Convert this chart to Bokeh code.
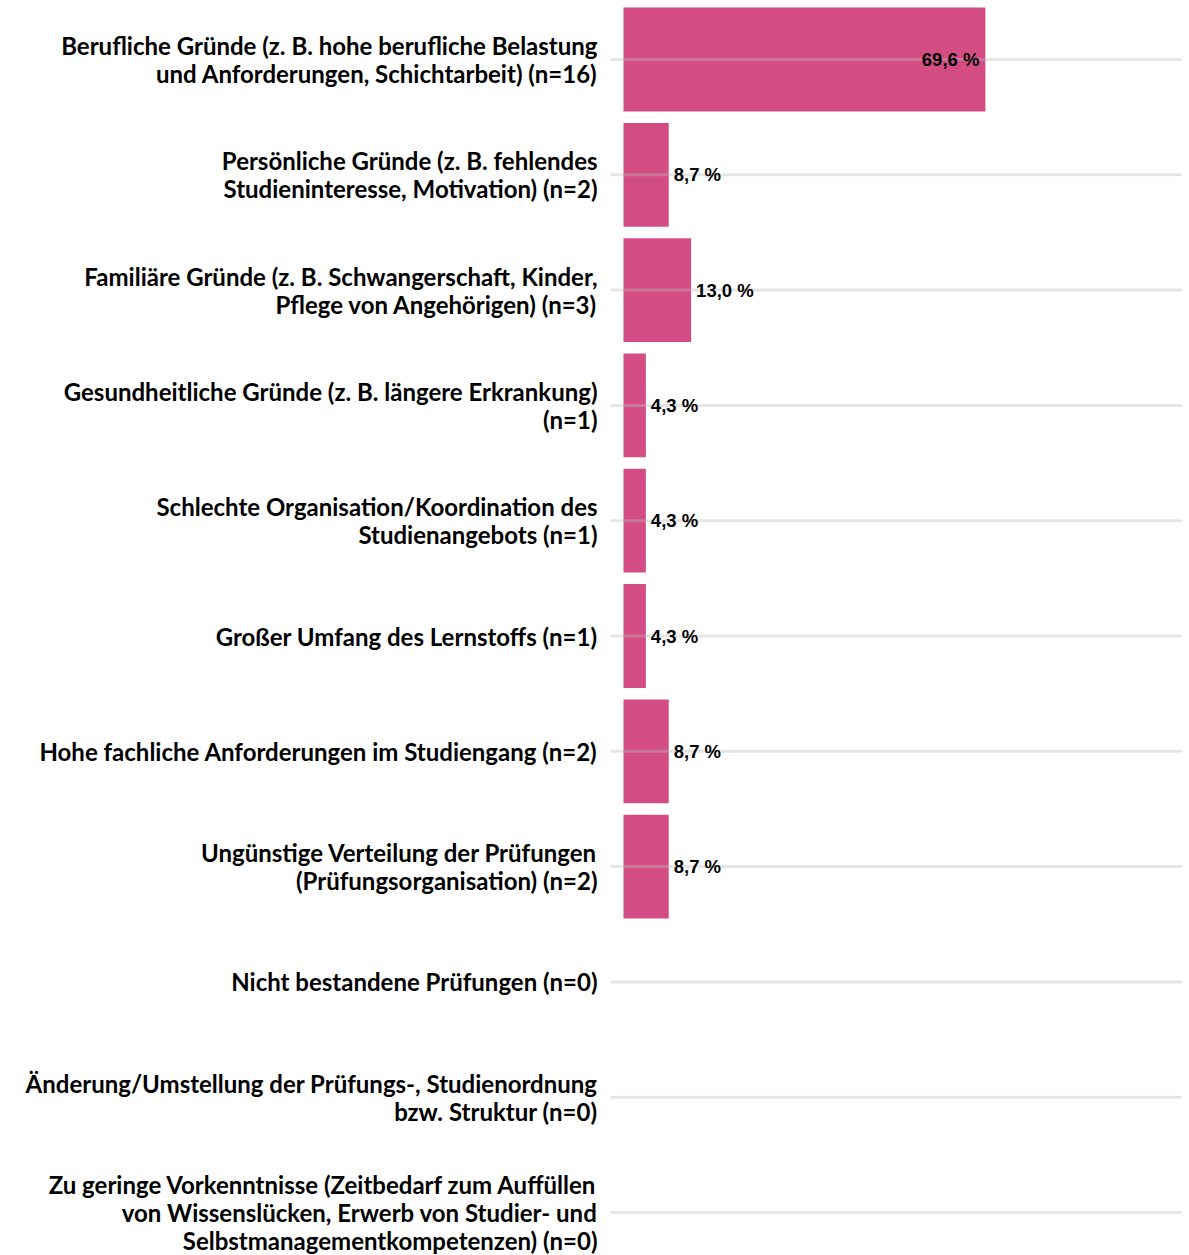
from bokeh.plotting import figure
from bokeh.models import ColumnDataSource, Range1d
from bokeh.core.properties import value
from bokeh.embed import file_html
from bokeh.resources import INLINE

categories = [
    "Berufliche Gründe (z. B. hohe berufliche Belastung\nund Anforderungen, Schichtarbeit) (n=16)",
    "Persönliche Gründe (z. B. fehlendes\nStudieninteresse, Motivation) (n=2)",
    "Familiäre Gründe (z. B. Schwangerschaft, Kinder,\nPflege von Angehörigen) (n=3)",
    "Gesundheitliche Gründe (z. B. längere Erkrankung)\n(n=1)",
    "Schlechte Organisation/Koordination des\nStudienangebots (n=1)",
    "Großer Umfang des Lernstoffs (n=1)",
    "Hohe fachliche Anforderungen im Studiengang (n=2)",
    "Ungünstige Verteilung der Prüfungen\n(Prüfungsorganisation) (n=2)",
    "Nicht bestandene Prüfungen (n=0)",
    "Änderung/Umstellung der Prüfungs-, Studienordnung\nbzw. Struktur (n=0)",
    "Zu geringe Vorkenntnisse (Zeitbedarf zum Auffüllen\nvon Wissenslücken, Erwerb von Studier- und\nSelbstmanagementkompetenzen) (n=0)",
]
percent = [69.6, 8.7, 13.0, 4.3, 4.3, 4.3, 8.7, 8.7, 0.0, 0.0, 0.0]
value_labels = ["69,6 %", "8,7 %", "13,0 %", "4,3 %", "4,3 %", "4,3 %",
                "8,7 %", "8,7 %", "", "", ""]

n = len(categories)
ypos = [n - 1 - i for i in range(n)]

W, H = 1182, 1255
px_per_unit_x = 5.2
x0_px = 623
x_start = -x0_px / px_per_unit_x
x_end = (W - x0_px) / px_per_unit_x
row_px = 115.3
y_end = (n - 1) + 59 / row_px
y_start = y_end - H / row_px

p = figure(width=W, height=H, output_backend="svg", toolbar_location=None,
           x_range=Range1d(x_start, x_end), y_range=Range1d(y_start, y_end),
           min_border=0, min_border_left=0, min_border_right=0,
           min_border_top=0, min_border_bottom=0)
p.axis.visible = False
p.grid.visible = False
p.outline_line_color = None
p.background_fill_color = "white"
p.border_fill_color = "white"

bars = ColumnDataSource(dict(y=ypos, right=percent))
p.hbar(y="y", left=0, right="right", height=0.9, source=bars,
       fill_color="#D44C84", line_color=None)

# grid lines at category centers (drawn over bars)
grid_x0 = [-13 / px_per_unit_x] * n
grid_x1 = [x_end] * n
p.segment(x0=grid_x0, y0=ypos, x1=grid_x1, y1=ypos,
          line_color="#bbbbbb", line_alpha=0.38, line_width=3)

# category labels
lab_x = [-26 / px_per_unit_x] * n
p.text(x=lab_x, y=ypos, text=categories, text_align="right",
       text_baseline="middle", text_font=value("Lato"),
       text_font_style="bold", text_font_size="24px",
       text_line_height=0.97, text_color="#000000")

# value labels
inside = [v > 30 for v in percent]
vx = [v for v in percent]
out_idx = [i for i in range(n) if value_labels[i] and not inside[i]]
in_idx = [i for i in range(n) if value_labels[i] and inside[i]]
p.text(x=[vx[i] for i in out_idx], y=[ypos[i] for i in out_idx],
       text=[value_labels[i] for i in out_idx], x_offset=5,
       text_align="left", text_baseline="middle",
       text_font=value("Liberation Sans"), text_font_style="bold",
       text_font_size="18.5px", text_color="#000000")
p.text(x=[vx[i] for i in in_idx], y=[ypos[i] for i in in_idx],
       text=[value_labels[i] for i in in_idx], x_offset=-6,
       text_align="right", text_baseline="middle",
       text_font=value("Liberation Sans"), text_font_style="bold",
       text_font_size="18.5px", text_color="#000000")

open("out.html", "w").write(file_html(p, INLINE))
